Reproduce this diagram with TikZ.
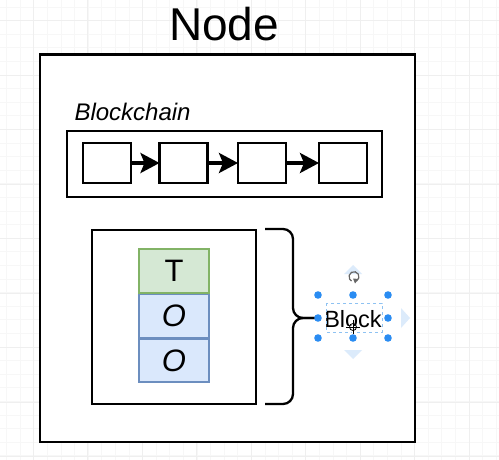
\documentclass[tikz,border=0pt]{standalone}
\usepackage{fontspec}
\setmainfont{Liberation Sans}
\usetikzlibrary{arrows.meta,positioning}
\definecolor{gridminor}{HTML}{F7F7F7}
\definecolor{gridmajor}{HTML}{EFEFEF}
\definecolor{txgreen}{HTML}{D5E8D4}
\definecolor{txgreenline}{HTML}{82B366}
\definecolor{outblue}{HTML}{DAE8FC}
\definecolor{outblueline}{HTML}{6C8EBF}
\definecolor{handle}{HTML}{2A8CF2}
\definecolor{handlefaint}{HTML}{DCEBFB}
\definecolor{selline}{HTML}{8EC2F2}
\tikzset{
  chainblock/.style={draw,line width=2.3pt,minimum width=48pt,minimum height=40pt,inner sep=0pt,outer sep=0pt},
  link/.style={line width=3.5pt,-{Stealth[length=19pt,width=20pt,inset=4pt]}},
  txrow/.style={draw=txgreenline,fill=txgreen,line width=1.6pt,minimum width=70pt,minimum height=44pt,inner sep=0pt,font=\fontsize{31}{33}\selectfont},
  outrow/.style={draw=outblueline,fill=outblue,line width=1.6pt,minimum width=70pt,minimum height=43pt,inner sep=0pt,font=\fontsize{31}{33}\selectfont\itshape},
  selhandle/.style={fill=handle},
}
\begin{document}
\begin{tikzpicture}[x=1pt,y=-1pt]
\useasboundingbox (0,0) rectangle (499,460);
% background grid
\foreach \gx in {-7.2,6.4,...,499} \draw[gridminor,line width=0.6pt] (\gx,0)--(\gx,460);
\foreach \gy in {-6.7,6.9,...,460} \draw[gridminor,line width=0.6pt] (0,\gy)--(499,\gy);
\foreach \gx in {-21.3,33.2,...,499} \draw[gridmajor,line width=0.7pt] (\gx,0)--(\gx,460);
\foreach \gy in {20.5,75,...,460} \draw[gridmajor,line width=0.7pt] (0,\gy)--(499,\gy);
% node box
\node[font=\fontsize{46}{48}\selectfont] (title) at (224,24) {Node};
\draw[fill=white,line width=2.3pt] (40,54.5) rectangle (415,442);
% blockchain
\node[font=\fontsize{24}{26}\selectfont\itshape,anchor=west] (chainlabel) at (71,112) {Blockchain};
\draw[line width=2.3pt] (67,131) rectangle (382,197);
\node[chainblock] (b1) at (107,163) {};
\node[chainblock] (b2) at (183.5,163) {};
\node[chainblock] (b3) at (262,163) {};
\node[chainblock] (b4) at (343,163) {};
\draw[link] (b1)--(b2);
\draw[link] (b2)--(b3);
\draw[link] (b3)--(b4);
% block
\draw[line width=2.3pt] (92,230) rectangle (256,404);
\node[txrow] (tx) at (174,271) {T};
\node[outrow,below=0pt of tx] (out1) {$\mathit{O}$};
\node[outrow,below=0pt of out1] (out2) {$\mathit{O}$};
% brace
\draw[line width=2.3pt,rounded corners=10pt] (265,229)--(293,229)--(293,318)--(315,318);
\draw[line width=2.3pt,rounded corners=10pt] (315,318)--(293,318)--(293,404)--(265,404);
% selected label
\fill[handlefaint] (353,265)--(362,274)--(344,274)--cycle;
\fill[handlefaint] (353,359)--(362,350)--(344,350)--cycle;
\fill[handlefaint] (410,318)--(401,308)--(401,328)--cycle;
\node[font=\fontsize{23.5}{25}\selectfont] (blocklabel) at (353,319) {Block};
\draw[selline,dashed,line width=0.8pt] (326,303) rectangle (382,332);
\foreach \hx in {318,353,388} {
  \fill[selhandle] (\hx,295) circle (3.8);
  \fill[selhandle] (\hx,338) circle (3.8);
}
\fill[selhandle] (318,318) circle (3.8);
\fill[selhandle] (388,318) circle (3.8);
% rotate and move icons
\draw[gray!80!black,line width=1.2pt] (356.5,281) arc (60:-240:5);
\fill[gray!80!black] (353,278.5)--(358.5,279)--(355,283.5)--cycle;
\draw[white,line width=2.4pt] (353,320)--(353,334) (346,327)--(360,327);
\draw[black,line width=1pt] (353,320)--(353,334) (346,327)--(360,327);
\draw[black,line width=0.8pt] (353,327) circle (3.5);
\end{tikzpicture}
\end{document}
